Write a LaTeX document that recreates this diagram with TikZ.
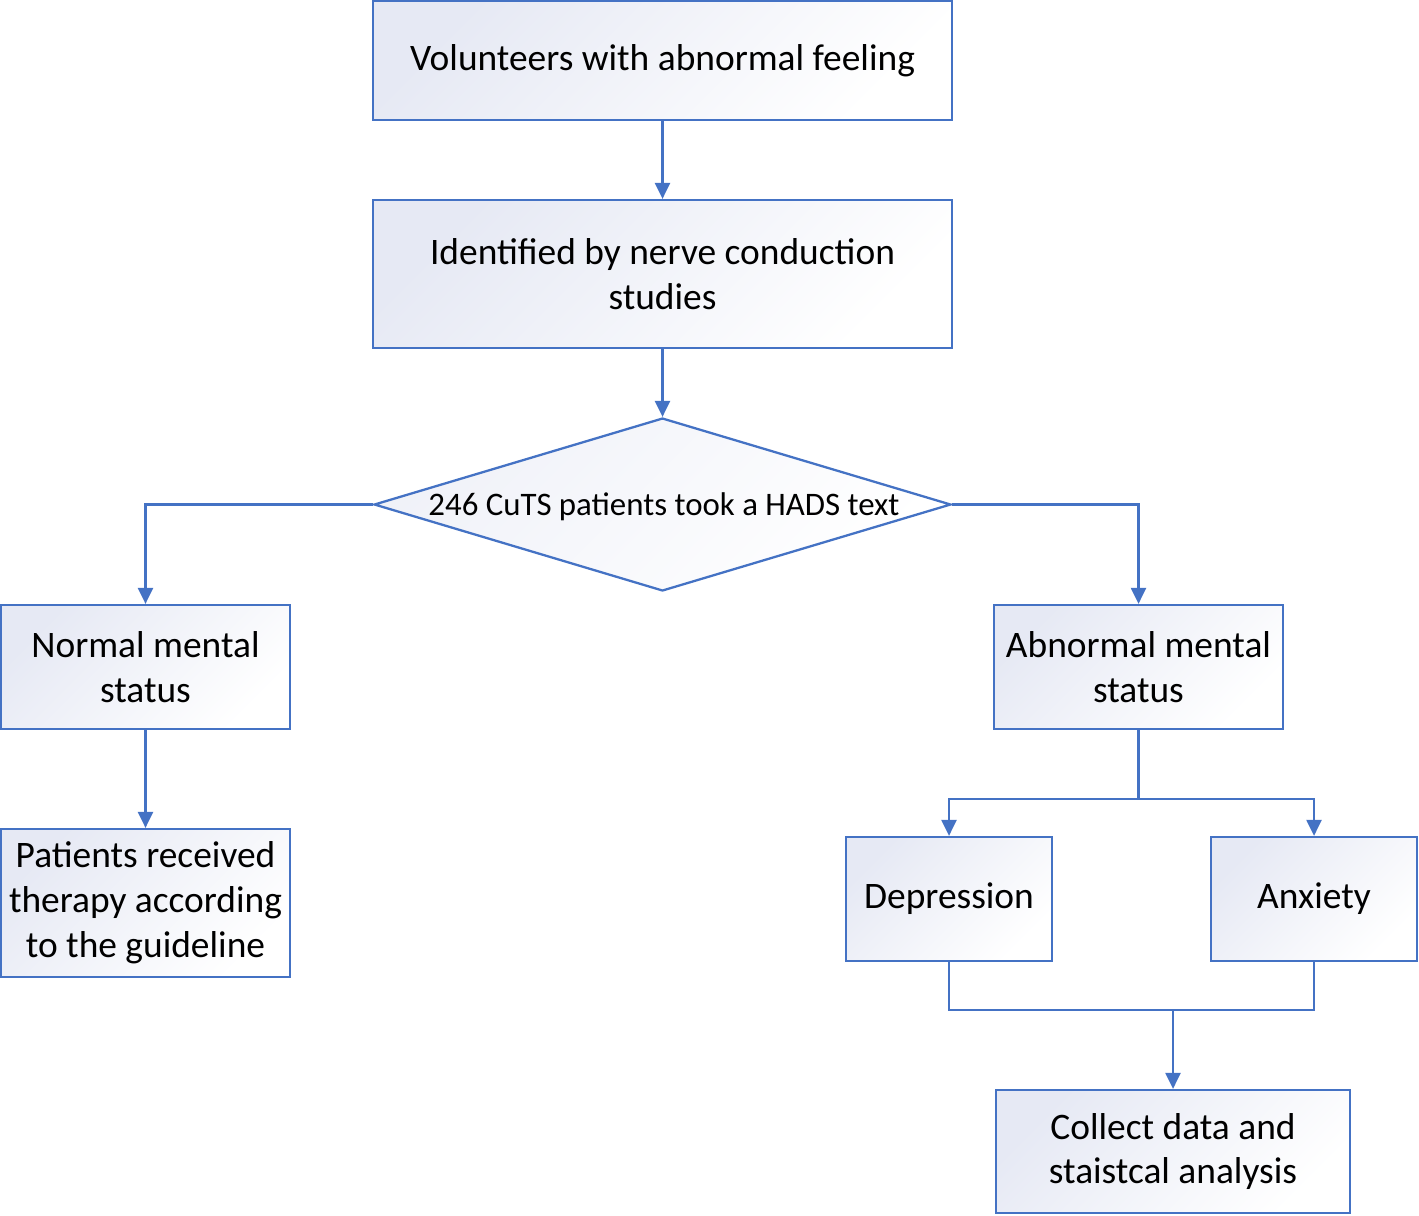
\documentclass[tikz,border=0pt]{standalone}
\usepackage{fontspec}
\setmainfont{Carlito}
\usetikzlibrary{shapes.geometric,arrows.meta}
\definecolor{lineblue}{RGB}{68,114,196}
\definecolor{boxfill}{RGB}{230,233,244}
\begin{document}
\begin{tikzpicture}[x=0.02cm, y=-0.02cm,
  box/.style={draw=lineblue, line width=1.3pt, top color=boxfill, bottom color=white,
    shading angle=45, align=center, inner sep=0pt,
    font=\fontsize{21.3}{25.5}\selectfont},
  decision/.style={diamond, draw=lineblue, line width=1.3pt, top color=boxfill!60, bottom color=white,
    shading angle=45, inner sep=0pt},
  link/.style={lineblue, line width=1.3pt, -{Triangle[length=0.32cm, width=0.3cm]}},
  plain/.style={lineblue, line width=1.3pt}]
  \useasboundingbox (0,0) rectangle (1419,1215);

  \node[box, minimum width=11.58cm, minimum height=2.38cm] (vol) at (662.5,60.5) {Volunteers with abnormal feeling};
  \node[box, minimum width=11.58cm, minimum height=2.96cm] (ncs) at (662.5,274) {Identified by nerve conduction\\studies};
  \node[decision, minimum width=11.54cm, minimum height=3.46cm] (hads) at (662.5,504.5) {};
  \node[font=\fontsize{18.7}{22}\selectfont] (hadstext) at (664,507) {246 CuTS patients took a HADS text};
  \node[box, minimum width=5.78cm, minimum height=2.48cm] (normal) at (145.5,667) {Normal mental\\status};
  \node[box, minimum width=5.78cm, minimum height=2.96cm] (therapy) at (145.5,903) {Patients received\\therapy according\\to the guideline};
  \node[box, minimum width=5.78cm, minimum height=2.48cm] (abnormal) at (1138.5,667) {Abnormal mental\\status};
  \node[box, minimum width=4.12cm, minimum height=2.48cm] (dep) at (949,899) {Depression};
  \node[box, minimum width=4.12cm, minimum height=2.48cm] (anx) at (1314,899) {Anxiety};
  \node[box, minimum width=7.08cm, minimum height=2.46cm] (collect) at (1173,1151.5) {Collect data and\\staistcal analysis};

  \coordinate (split) at (1138.5,799);
  \coordinate (merge) at (1173,1010);

  \draw[link] (vol) -- (ncs);
  \draw[link] (ncs) -- (hads);
  \draw[link] (hads.west) -| (normal.north);
  \draw[link] (hads.east) -| (abnormal.north);
  \draw[link] (normal) -- (therapy);
  \draw[plain] (abnormal) -- (split);
  \draw[link] (split) -| (dep.north);
  \draw[link] (split) -| (anx.north);
  \draw[plain] (dep.south) |- (merge);
  \draw[plain] (anx.south) |- (merge);
  \draw[link] (merge) -- (collect);
\end{tikzpicture}
\end{document}
